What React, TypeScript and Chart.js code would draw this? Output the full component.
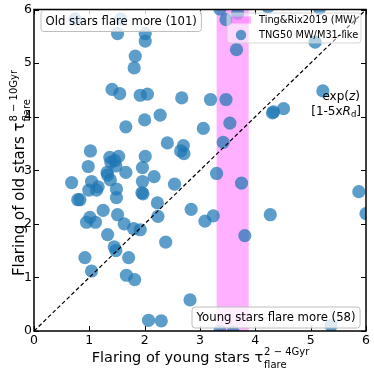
import React, { useEffect, useRef } from "react";
import { Chart, registerables } from "chart.js";

Chart.register(...registerables);

const youngFlare = [
  0.74, 1.57, 1.51, 2.01, 2.01, 1.83, 1.81, 1.41, 1.55, 1.92, 2.05, 2.67, 2.28, 2.0, 1.66, 3.06,
  2.41, 2.7, 2.65, 2.71, 1.02, 1.37, 1.53, 1.46, 1.39, 2.01, 0.98, 1.96, 1.48, 1.66, 1.33, 2.17,
  1.38, 0.68, 1.04, 1.16, 1.96, 2.54, 0.99, 1.13, 1.49, 1.95, 1.97, 0.79, 0.83, 1.49, 2.23, 1.25,
  1.01, 0.95, 1.11, 1.51, 2.24, 1.63, 1.8, 1.92, 2.84, 3.09, 3.24, 1.33, 2.38, 1.45, 1.48, 0.92,
  1.71, 1.04, 1.67, 1.82, 2.82, 2.07, 2.3, 3.36, 3.68, 3.47, 4.23, 5.16, 3.66, 5.08, 5.22, 3.19,
  3.47, 4.33, 4.51, 4.31, 3.54, 3.42, 3.3, 3.75, 4.27, 3.81, 5.87, 6.0, 5.37, 3.36, 3.6, 1.32,
];
const oldFlare = [
  5.82, 5.82, 5.55, 5.55, 5.41, 5.13, 4.91, 4.51, 4.43, 4.4, 4.42, 4.35, 4.03, 3.94, 3.81, 3.78,
  3.51, 3.46, 3.36, 3.31, 3.36, 3.24, 3.26, 3.18, 3.15, 3.26, 3.07, 3.05, 3.08, 2.96, 2.91, 2.88,
  2.82, 2.77, 2.79, 2.69, 2.79, 2.74, 2.63, 2.63, 2.65, 2.58, 2.56, 2.45, 2.45, 2.49, 2.39, 2.25,
  2.12, 2.03, 2.03, 2.17, 2.14, 2.0, 1.91, 1.89, 2.27, 2.05, 2.15, 1.8, 1.66, 1.57, 1.5, 1.37,
  1.37, 1.12, 1.04, 0.96, 0.58, 0.2, 0.19, 6.01, 5.93, 5.81, 6.05, 6.02, 5.25, 5.39, 4.48, 4.32,
  4.32, 4.09, 4.15, 4.07, 3.88, 3.52, 2.94, 2.76, 2.17, 1.78, 2.6, 2.19, 0.1, 0.0, -0.02, 2.96,
];
const tickValues = [0, 1, 2, 3, 4, 5, 6];
const bandRange = [3.3, 3.88];
const diagonal = [0, 6];
const legendLabels = ["Ting&Rix2019 (MW)", "TNG50 MW/M31-like"];
const oldBoxText = "Old stars flare more (101)";
const youngBoxText = "Young stars flare more (58)";

const FONT = "'DejaVu Sans', sans-serif";
const BLUE = "rgba(31,119,180,0.72)";
const PINK = "rgba(255,0,255,0.31)";

type Part = { t: string; size: number; italic?: boolean; dy?: number };

function drawRun(ctx: CanvasRenderingContext2D, parts: Part[], x: number, y: number, align: "left" | "right") {
  let total = 0;
  const widths = parts.map((p) => {
    ctx.font = `${p.italic ? "italic " : ""}${p.size}px ${FONT}`;
    const w = ctx.measureText(p.t).width;
    total += w;
    return w;
  });
  let cx = align === "right" ? x - total : x;
  parts.forEach((p, i) => {
    ctx.font = `${p.italic ? "italic " : ""}${p.size}px ${FONT}`;
    ctx.fillText(p.t, cx, y + (p.dy || 0));
    cx += widths[i];
  });
}

function drawAxisLabel(ctx: CanvasRenderingContext2D, main: string, sup: string, sub: string, cx: number, y: number, size: number) {
  ctx.textAlign = "left";
  ctx.textBaseline = "alphabetic";
  ctx.fillStyle = "#000";
  ctx.font = `${size}px ${FONT}`;
  const w1 = ctx.measureText(main).width;
  ctx.font = `10px ${FONT}`;
  const ws = Math.max(ctx.measureText(sup).width, ctx.measureText(sub).width);
  const start = cx - (w1 + ws) / 2;
  ctx.font = `${size}px ${FONT}`;
  ctx.fillText(main, start, y);
  ctx.font = `10px ${FONT}`;
  ctx.fillText(sup, start + w1 + 1, y - 7);
  ctx.fillText(sub, start + w1 + 1, y + 6);
}

function roundRect(ctx: CanvasRenderingContext2D, x: number, y: number, w: number, h: number, r: number) {
  ctx.beginPath();
  ctx.moveTo(x + r, y);
  ctx.lineTo(x + w - r, y);
  ctx.arcTo(x + w, y, x + w, y + r, r);
  ctx.lineTo(x + w, y + h - r);
  ctx.arcTo(x + w, y + h, x + w - r, y + h, r);
  ctx.lineTo(x + r, y + h);
  ctx.arcTo(x, y + h, x, y + h - r, r);
  ctx.lineTo(x, y + r);
  ctx.arcTo(x, y, x + r, y, r);
  ctx.closePath();
}

function textBox(ctx: CanvasRenderingContext2D, text: string, x: number, yMid: number) {
  ctx.font = `11.7px ${FONT}`;
  const w = ctx.measureText(text).width;
  roundRect(ctx, x, yMid - 10.5, w + 9, 21, 3);
  ctx.fillStyle = "rgba(255,255,255,0.8)";
  ctx.fill();
  ctx.strokeStyle = "rgb(190,190,190)";
  ctx.lineWidth = 1;
  ctx.stroke();
  ctx.fillStyle = "#000";
  ctx.textAlign = "left";
  ctx.textBaseline = "middle";
  ctx.fillText(text, x + 4.5, yMid + 0.5);
}

const extras = {
  id: "extras",
  beforeDatasetsDraw(chart: any) {
    const { ctx, chartArea: a, scales } = chart;
    const x0 = scales.x.getPixelForValue(bandRange[0]);
    const x1 = scales.x.getPixelForValue(bandRange[1]);
    ctx.save();
    ctx.fillStyle = PINK;
    ctx.fillRect(x0, a.top, x1 - x0, a.bottom - a.top);
    ctx.restore();
  },
  afterDatasetsDraw(chart: any) {
    const { ctx, chartArea: a, scales } = chart;
    ctx.save();
    ctx.strokeStyle = "#000";
    ctx.lineWidth = 1.5;
    ctx.strokeRect(a.left, a.top, a.right - a.left, a.bottom - a.top);
    ctx.lineWidth = 1;
    const tl = 5;
    tickValues.forEach((v) => {
      const px = Math.round(scales.x.getPixelForValue(v)) + 0.5;
      const py = Math.round(scales.y.getPixelForValue(v)) + 0.5;
      ctx.beginPath();
      ctx.moveTo(px, a.bottom);
      ctx.lineTo(px, a.bottom - tl);
      ctx.moveTo(px, a.top);
      ctx.lineTo(px, a.top + tl);
      ctx.moveTo(a.left, py);
      ctx.lineTo(a.left + tl, py);
      ctx.moveTo(a.right, py);
      ctx.lineTo(a.right - tl, py);
      ctx.stroke();
    });
    textBox(ctx, oldBoxText, 41, 21);
    textBox(ctx, youngBoxText, 192, 317.5);
    roundRect(ctx, 227, 13, 134, 30, 3);
    ctx.fillStyle = "rgba(255,255,255,0.5)";
    ctx.fill();
    ctx.strokeStyle = "rgba(204,204,204,0.8)";
    ctx.lineWidth = 1;
    ctx.stroke();
    ctx.fillStyle = PINK;
    ctx.fillRect(231, 16.5, 20, 7);
    ctx.fillStyle = BLUE;
    ctx.beginPath();
    ctx.arc(241, 35, 5.2, 0, Math.PI * 2);
    ctx.fill();
    ctx.fillStyle = "#000";
    ctx.font = `9.8px ${FONT}`;
    ctx.textAlign = "left";
    ctx.textBaseline = "middle";
    ctx.fillText(legendLabels[0], 259, 20.5);
    ctx.fillText(legendLabels[1], 259, 35.5);
    ctx.textBaseline = "alphabetic";
    drawRun(ctx, [
      { t: "exp(", size: 12 },
      { t: "z", size: 12, italic: true },
      { t: ")", size: 12 },
    ], 360, 100, "right");
    drawRun(ctx, [
      { t: "[1-5x", size: 12 },
      { t: "R", size: 12, italic: true },
      { t: "d", size: 8.5, dy: 2 },
      { t: "]", size: 12 },
    ], 361, 115, "right");
    ctx.restore();
  },
  afterDraw(chart: any) {
    const { ctx, chartArea: a } = chart;
    ctx.save();
    drawAxisLabel(ctx, "Flaring of young stars \u03c4", "2 \u2212 4Gyr", "flare", (a.left + a.right) / 2, 362, 14.5);
    ctx.translate(24, 173.5);
    ctx.rotate(-Math.PI / 2);
    drawAxisLabel(ctx, "Flaring of old stars \u03c4", "8 \u2212 10Gyr", "flare", 0, 0, 15);
    ctx.restore();
  },
};

export default function App() {
  const ref = useRef<HTMLCanvasElement>(null);
  useEffect(() => {
    if (!ref.current) return;
    const points = youngFlare.map((x, i) => ({ x, y: oldFlare[i] }));
    const axisCommon = {
      type: "linear" as const,
      min: 0,
      max: 6,
      grid: { display: false, drawTicks: false },
      border: { display: false },
    };
    const chart = new Chart(ref.current, {
      type: "scatter",
      data: {
        datasets: [
          {
            type: "line",
            data: diagonal.map((v) => ({ x: v, y: v })),
            borderColor: "#000",
            borderWidth: 1.2,
            borderDash: [4, 2.5],
            pointRadius: 0,
            fill: false,
          } as any,
          {
            data: points,
            backgroundColor: BLUE,
            borderWidth: 0,
            pointRadius: 6.6,
            clip: 0,
          } as any,
        ],
      },
      options: {
        animation: false,
        responsive: true,
        maintainAspectRatio: false,
        layout: { padding: { top: 8, right: 8, left: 0, bottom: 0 } },
        plugins: { legend: { display: false }, tooltip: { enabled: false } },
        scales: {
          x: {
            ...axisCommon,
            ticks: {
              stepSize: 1,
              color: "#000",
              padding: 2,
              maxRotation: 0,
              font: { size: 12.5, family: FONT },
            },
            afterFit: (s: any) => {
              s.height = 39;
            },
          },
          y: {
            ...axisCommon,
            ticks: {
              stepSize: 1,
              color: "#000",
              padding: 2,
              font: { size: 12.5, family: FONT },
            },
            afterFit: (s: any) => {
              s.width = 34;
            },
          },
        },
      } as any,
      plugins: [extras],
    });
    return () => chart.destroy();
  }, []);
  return (
    <div style={{ position: "absolute", left: 0, top: 0, width: 374, height: 370 }}>
      <canvas ref={ref} />
    </div>
  );
}
